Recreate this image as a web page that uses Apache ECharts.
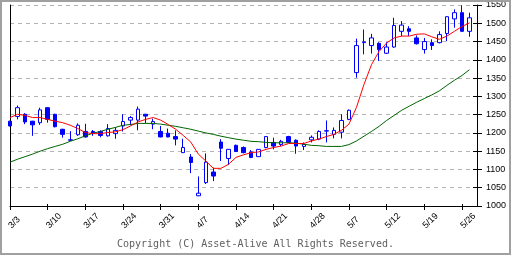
<!DOCTYPE html>
<html><head><meta charset="utf-8">
<script src="https://cdn.jsdelivr.net/npm/echarts@6/dist/echarts.min.js"></script>
<style>html,body{margin:0;padding:0;background:#fff}#c{width:512px;height:256px}</style>
</head><body><div id="c"></div>
<script>
const dates = [
 '3/3','3/4','3/5','3/6','3/7',
 '3/10','3/11','3/12','3/13','3/14',
 '3/17','3/18','3/19','3/20','3/21',
 '3/24','3/25','3/26','3/27','3/28',
 '3/31','4/1','4/2','4/3','4/4',
 '4/7','4/8','4/9','4/10','4/11',
 '4/14','4/15','4/16','4/17','4/18',
 '4/21','4/22','4/23','4/24','4/25',
 '4/28','4/29','4/30','5/1','5/2',
 '5/7','5/8','5/9','5/10','5/11',
 '5/12','5/13','5/14','5/15','5/16',
 '5/19','5/20','5/21','5/22','5/23',
 '5/26','5/27','5/28'
];
const tickLabels = ['3/3','3/10','3/17','3/24','3/31','4/7','4/14','4/21','4/28','5/7','5/12','5/19','5/26'];

const opens  = [1232,1245,1251,1232,1228,1269,1251,1210,1181,1195,1204,1204,1204,1192,1198,1219,1235,1235,1251,1224,1204,1199,1190,1146,1134,1028,1064,1093,1175,1130,1166,1160,1148,1135,1160,1174,1168,1190,1180,1163,1181,1183,1205,1196,1202,1237,1365,1447,1439,1445,1418,1435,1478,1485,1460,1428,1447,1447,1472,1512,1529,1478];
const closes = [1219,1269,1230,1222,1263,1237,1217,1196,1180,1221,1189,1200,1193,1212,1207,1231,1242,1265,1246,1231,1189,1189,1183,1160,1119,1035,1120,1082,1158,1155,1149,1146,1133,1155,1190,1164,1177,1174,1164,1169,1188,1204,1206,1207,1234,1262,1439,1449,1460,1428,1435,1494,1495,1478,1444,1450,1439,1469,1518,1529,1478,1515];
const lows   = [1218,1237,1224,1192,1222,1228,1215,1187,1178,1192,1187,1192,1188,1190,1184,1204,1221,1207,1226,1210,1188,1188,1166,1145,1090,1027,1060,1068,1123,1112,1148,1144,1131,1134,1158,1155,1164,1172,1143,1153,1174,1180,1174,1185,1185,1235,1351,1415,1417,1397,1416,1433,1465,1465,1442,1417,1427,1445,1451,1488,1477,1463];
const highs  = [1233,1275,1254,1233,1269,1270,1252,1211,1205,1226,1225,1208,1207,1224,1216,1251,1246,1272,1252,1239,1219,1212,1207,1184,1142,1081,1144,1105,1183,1156,1168,1163,1153,1156,1191,1187,1181,1192,1182,1174,1193,1207,1234,1215,1251,1264,1458,1483,1471,1448,1448,1515,1506,1492,1467,1460,1456,1478,1519,1538,1549,1529];

const maShort = [1242,1251,1248,1242,1242,1237,1232,1228,1221,1212,1201,1198,1198,1201,1203,1209,1219,1230,1237,1242,1235,1223,1210,1193,1175,1142,1123,1103,1103,1114,1133,1140,1146,1148,1155,1160,1164,1171,1171,1171,1178,1183,1190,1196,1207,1224,1270,1333,1387,1423,1446,1460,1465,1465,1470,1471,1463,1456,1465,1478,1491,1501];
const maLong  = [1120,1128,1135,1142,1150,1157,1163,1169,1177,1184,1192,1199,1204,1210,1215,1221,1223,1226,1226,1226,1224,1221,1218,1214,1210,1205,1200,1196,1191,1187,1183,1180,1177,1176,1174,1173,1173,1173,1172,1169,1166,1165,1163,1163,1163,1168,1178,1191,1204,1218,1234,1248,1262,1273,1284,1294,1304,1315,1330,1344,1357,1373];

const yMin = 1000, yMax = 1550, yStep = 50;
const copyright = 'Copyright (C) Asset-Alive All Rights Reserved.';

const candles = opens.map((o, i) => [o, closes[i], lows[i], highs[i]]);
const showTick = (idx, val) => tickLabels.indexOf(val) >= 0;
const labelFont = {fontFamily: 'Liberation Sans', fontSize: 9, color: '#000'};

const chart = echarts.init(document.getElementById('c'), null, {renderer: 'canvas'});
chart.setOption({
  animation: false,
  backgroundColor: '#fff',
  grid: {left: 10, right: 35, top: 5, bottom: 50, containLabel: false},
  xAxis: [{
    type: 'category', data: dates, boundaryGap: false, position: 'bottom',
    axisLine: {show: true, onZero: false, lineStyle: {color: '#000', width: 1}},
    axisTick: {show: true, length: 4, interval: showTick, lineStyle: {color: '#000'}},
    axisLabel: Object.assign({interval: showTick, rotate: 45, align: 'left', verticalAlign: 'middle', margin: 21}, labelFont),
    splitLine: {show: false}
  }, {
    type: 'category', data: dates, boundaryGap: false, position: 'bottom',
    axisLine: {show: false, onZero: false},
    axisTick: {show: true, inside: true, length: 2, interval: showTick, lineStyle: {color: '#000'}},
    axisLabel: {show: false}, splitLine: {show: false}
  }],
  yAxis: [{
    type: 'value', position: 'right', min: yMin, max: yMax, interval: yStep, scale: true,
    axisLine: {show: true, onZero: false, lineStyle: {color: '#000'}},
    axisTick: {show: true, length: 5, lineStyle: {color: '#000'}},
    axisLabel: Object.assign({margin: 9, formatter: v => String(v)}, labelFont),
    splitLine: {show: true, lineStyle: {color: '#b4b4b4', type: [4, 4], width: 1}}
  }, {
    type: 'value', position: 'right', min: yMin, max: yMax, interval: yStep,
    axisLine: {show: false, onZero: false},
    axisTick: {show: true, inside: true, length: 4, lineStyle: {color: '#000'}},
    axisLabel: {show: false}, splitLine: {show: false}
  }, {
    type: 'value', position: 'left', min: yMin, max: yMax, interval: yStep,
    axisLine: {show: true, onZero: false, lineStyle: {color: '#000'}},
    axisTick: {show: false}, axisLabel: {show: false}, splitLine: {show: false}
  }],
  series: [{
    type: 'candlestick', data: candles, xAxisIndex: 0, yAxisIndex: 0,
    barWidth: 4, clip: false,
    itemStyle: {color: '#ffffff', color0: '#0000ff', borderColor: '#0000ff', borderColor0: '#0000ff', borderWidth: 1}
  }, {
    type: 'line', data: maLong, xAxisIndex: 0, yAxisIndex: 0, symbol: 'none', z: 3,
    lineStyle: {color: '#006400', width: 1}
  }, {
    type: 'line', data: maShort, xAxisIndex: 0, yAxisIndex: 0, symbol: 'none', z: 4,
    lineStyle: {color: '#ff0000', width: 1}
  }],
  graphic: [{
    type: 'rect', silent: true, z: 100,
    shape: {x: 1, y: 1, width: 509, height: 253},
    style: {fill: 'none', stroke: '#a0a0a0', lineWidth: 2}
  }, {
    type: 'text', left: 117, top: 239, z: 100,
    style: {text: copyright, font: '10px "DejaVu Sans Mono"', fill: '#606060'}
  }]
});
</script></body></html>
